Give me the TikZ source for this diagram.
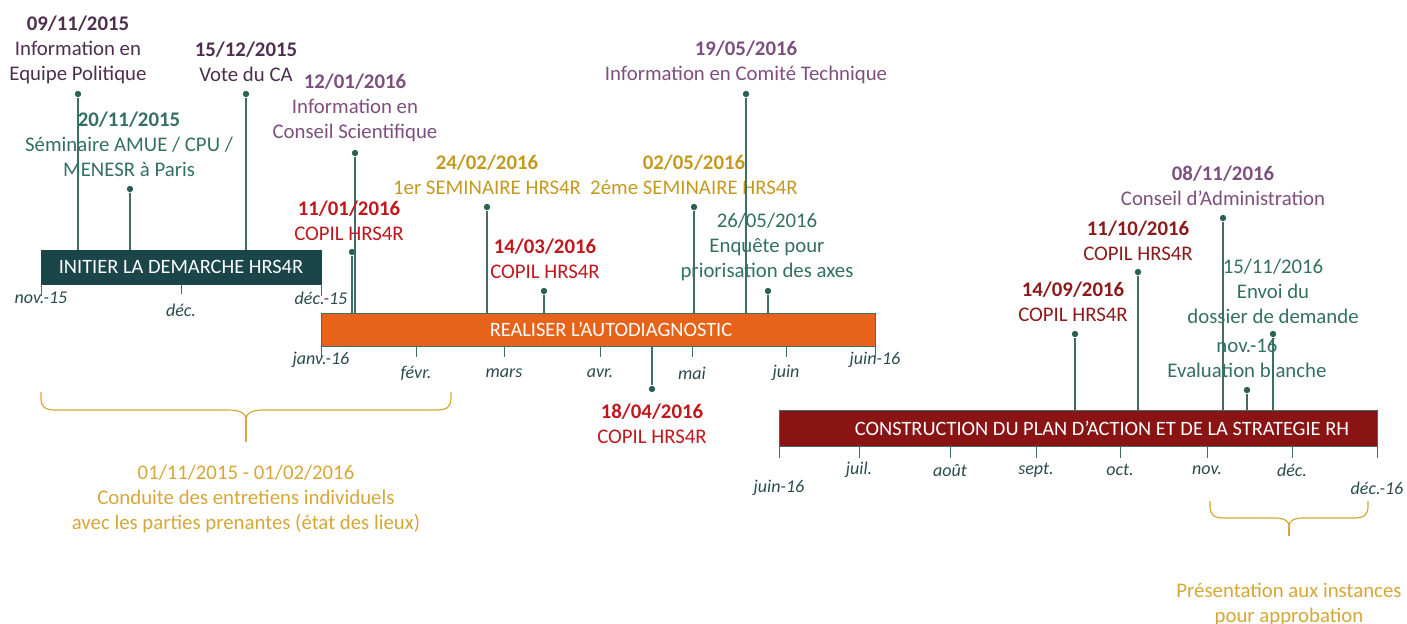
\documentclass[tikz,border=0pt]{standalone}
\usepackage{fontspec}
\setmainfont{Carlito}
\definecolor{cBarA}{HTML}{1B4649}
\definecolor{cBarB}{HTML}{E8631A}
\definecolor{cBarC}{HTML}{8A1414}
\definecolor{cStem}{HTML}{3F6E66}
\definecolor{cDot}{HTML}{2C5F55}
\definecolor{cAxis}{HTML}{2A4A4C}
\definecolor{cPurpD}{HTML}{4E2E4E}
\definecolor{cPurpL}{HTML}{7D4F7D}
\definecolor{cGreen}{HTML}{33705F}
\definecolor{cRed}{HTML}{C0171D}
\definecolor{cRedD}{HTML}{8C1A1A}
\definecolor{cGold}{HTML}{C49A1E}
\definecolor{cBrace}{HTML}{D6A738}
\begin{document}
\begin{tikzpicture}[x=0.5pt,y=-0.5pt,
  lbl/.style={align=center, font=\fontsize{10.4}{12.5}\selectfont, inner sep=0pt, yshift=-1pt},
  ax/.style={font=\fontsize{9}{10}\selectfont\itshape, text=cAxis, inner sep=0pt},
  stem/.style={draw=cStem, line width=0.6pt},
  dotn/.style={circle, fill=cDot, inner sep=0pt, minimum size=3.2pt},
  bar/.style={draw=cStem, line width=0.4pt, inner sep=0pt},
  bartxt/.style={text=white, font=\fontsize{10.2}{12}\selectfont, inner sep=0pt},
  tick/.style={draw=cStem, line width=0.5pt},
  brace/.style={draw=cBrace, line width=0.6pt},
  btxt/.style={align=center, text=cBrace, font=\fontsize{10.4}{12.5}\selectfont, inner sep=0pt, yshift=-1pt}]
\useasboundingbox (0,0) rectangle (1407,623);

% ---- bars
\node[bar, fill=cBarA, draw=cBarA, minimum width=140pt, minimum height=17pt] (barA) at (181,267) {};
\node[bartxt] (tA) at (181,267) {INITIER LA DEMARCHE HRS4R};
\node[bar, fill=cBarB, minimum width=277pt, minimum height=16.5pt] (barB) at (598,329.5) {};
\node[bartxt] (tB) at (611,329) {REALISER L’AUTODIAGNOSTIC};
\node[bar, fill=cBarC, minimum width=299pt, minimum height=18pt] (barC) at (1078,428) {};
\node[bartxt] (tC) at (1102,428) {CONSTRUCTION DU PLAN D’ACTION ET DE LA STRATEGIE RH};

% ---- ticks and axis labels, bar A
\draw[tick] (41,284) -- (41,296);
\draw[tick] (181,284) -- (181,294);
\draw[tick] (321,284) -- (321,296);
\node[ax] (a1) at (41,298) {nov.-15};
\node[ax] (a2) at (181,310) {déc.};
\node[ax] (a3) at (321,298) {déc.-15};
% bar B
\foreach \x in {321,416,504,600,692,786,875} \draw[tick] (\x,346) -- (\x,357);
\node[ax] (b1) at (321,360) {janv.-16};
\node[ax] (b2) at (416,373) {févr.};
\node[ax] (b3) at (504,373) {mars};
\node[ax] (b4) at (600,373) {avr.};
\node[ax] (b5) at (692,373) {mai};
\node[ax] (b6) at (786,373) {juin};
\node[ax] (b7) at (875,360) {juin-16};
% bar C
\foreach \x in {779,859,950,1036,1120,1207,1292,1377} \draw[tick] (\x,446) -- (\x,458);
\node[ax] (c1) at (779,488) {juin-16};
\node[ax] (c2) at (859,470) {juil.};
\node[ax] (c3) at (950,470) {août};
\node[ax] (c4) at (1036,470) {sept.};
\node[ax] (c5) at (1120,470) {oct.};
\node[ax] (c6) at (1207,470) {nov.};
\node[ax] (c7) at (1292,470) {déc.};
\node[ax] (c8) at (1377,488) {déc.-16};

% ---- events, bar A
\node[dotn] (d1) at (78,94) {};
\draw[stem] (d1) -- (d1 |- barA.north);
\node[lbl, text=cPurpD] (l1) at (78,47.5) {\textbf{09/11/2015}\\Information en\\Equipe Politique};

\node[dotn] (d2) at (130,189) {};
\draw[stem] (d2) -- (d2 |- barA.north);
\node[lbl, text=cGreen] (l2) at (129,142.5) {\textbf{20/11/2015}\\Séminaire AMUE / CPU /\\MENESR à Paris};

\node[dotn] (d3) at (246,94) {};
\draw[stem] (d3) -- (d3 |- barA.north);
\node[lbl, text=cPurpD] (l3) at (246,60) {\textbf{15/12/2015}\\Vote du CA};

% ---- events, bar B
\node[dotn] (d4) at (355,153) {};
\draw[stem] (d4) -- (d4 |- barB.north);
\node[lbl, text=cPurpL] (l4) at (355,106) {\textbf{12/01/2016}\\Information en\\Conseil Scientifique};

\node[dotn] (d5) at (352,252) {};
\draw[stem] (d5) -- (d5 |- barB.north);
\node[lbl, text=cRed] (l5) at (349,219) {\textbf{11/01/2016}\\COPIL HRS4R};

\node[dotn] (d6) at (487,207) {};
\draw[stem] (d6) -- (d6 |- barB.north);
\node[lbl, text=cGold] (l6) at (487,173) {\textbf{24/02/2016}\\1er SEMINAIRE HRS4R};

\node[dotn] (d7) at (544,291) {};
\draw[stem] (d7) -- (d7 |- barB.north);
\node[lbl, text=cRed] (l7) at (545,257) {\textbf{14/03/2016}\\COPIL HRS4R};

\node[dotn] (d8) at (694,207) {};
\draw[stem] (d8) -- (d8 |- barB.north);
\node[lbl, text=cGold] (l8) at (694,173) {\textbf{02/05/2016}\\2éme SEMINAIRE HRS4R};

\node[dotn] (d9) at (746,94) {};
\draw[stem] (d9) -- (d9 |- barB.north);
\node[lbl, text=cPurpL] (l9) at (746,60) {\textbf{19/05/2016}\\Information en Comité Technique};

\node[dotn] (d10) at (768,291) {};
\draw[stem] (d10) -- (d10 |- barB.north);
\node[lbl, text=cGreen] (l10) at (767,245) {26/05/2016\\Enquête pour\\priorisation des axes};

\node[dotn] (d11) at (652,389) {};
\draw[stem] (barB.south -| d11) -- (d11);
\node[lbl, text=cRed] (l11) at (652,422) {\textbf{18/04/2016}\\COPIL HRS4R};

% ---- events, bar C
\node[dotn] (d12) at (1075,334) {};
\draw[stem] (d12) -- (d12 |- barC.north);
\node[lbl, text=cRedD] (l12) at (1073,300) {\textbf{14/09/2016}\\COPIL HRS4R};

\node[dotn] (d13) at (1138,272) {};
\draw[stem] (d13) -- (d13 |- barC.north);
\node[lbl, text=cRedD] (l13) at (1138,239) {\textbf{11/10/2016}\\COPIL HRS4R};

\node[dotn] (d14) at (1223,218) {};
\draw[stem] (d14) -- (d14 |- barC.north);
\node[lbl, text=cPurpL] (l14) at (1223,184) {\textbf{08/11/2016}\\Conseil d’Administration};

\node[dotn] (d15) at (1273,334) {};
\draw[stem] (d15) -- (d15 |- barC.north);
\node[lbl, text=cGreen] (l15) at (1273,289) {15/11/2016\\Envoi du\\dossier de demande};

\node[dotn] (d16) at (1247,390) {};
\draw[stem] (d16) -- (d16 |- barC.north);
\node[lbl, text=cGreen] (l16) at (1247,356) {nov.-16\\Evaluation blanche};

% ---- braces
\draw[brace] (41,392) -- (41,398) .. controls (41,407) and (45,410) .. (56,410) -- (228,410)
  .. controls (240,410) and (246,413) .. (246,419) .. controls (246,413) and (252,410) .. (264,410)
  -- (436,410) .. controls (447,410) and (451,407) .. (451,398) -- (451,392);
\coordinate (bt1) at (246,419);
\coordinate (bb1) at (246,442);
\draw[brace] (bt1) -- (bb1);
\node[btxt] (bx1) at (246,496.5) {01/11/2015 - 01/02/2016\\Conduite des entretiens individuels\\avec les parties prenantes (état des lieux)};

\draw[brace] (1210,501) -- (1210,506) .. controls (1210,515) and (1214,518) .. (1224,518) -- (1275,518)
  .. controls (1284,518) and (1289,521) .. (1289,526) .. controls (1289,521) and (1294,518) .. (1303,518)
  -- (1354,518) .. controls (1364,518) and (1368,515) .. (1368,506) -- (1368,501);
\coordinate (bt2) at (1289,526);
\coordinate (bb2) at (1289,536);
\draw[brace] (bt2) -- (bb2);
\node[btxt] (bx2) at (1289,602.5) {Présentation aux instances\\pour approbation};
\end{tikzpicture}
\end{document}
